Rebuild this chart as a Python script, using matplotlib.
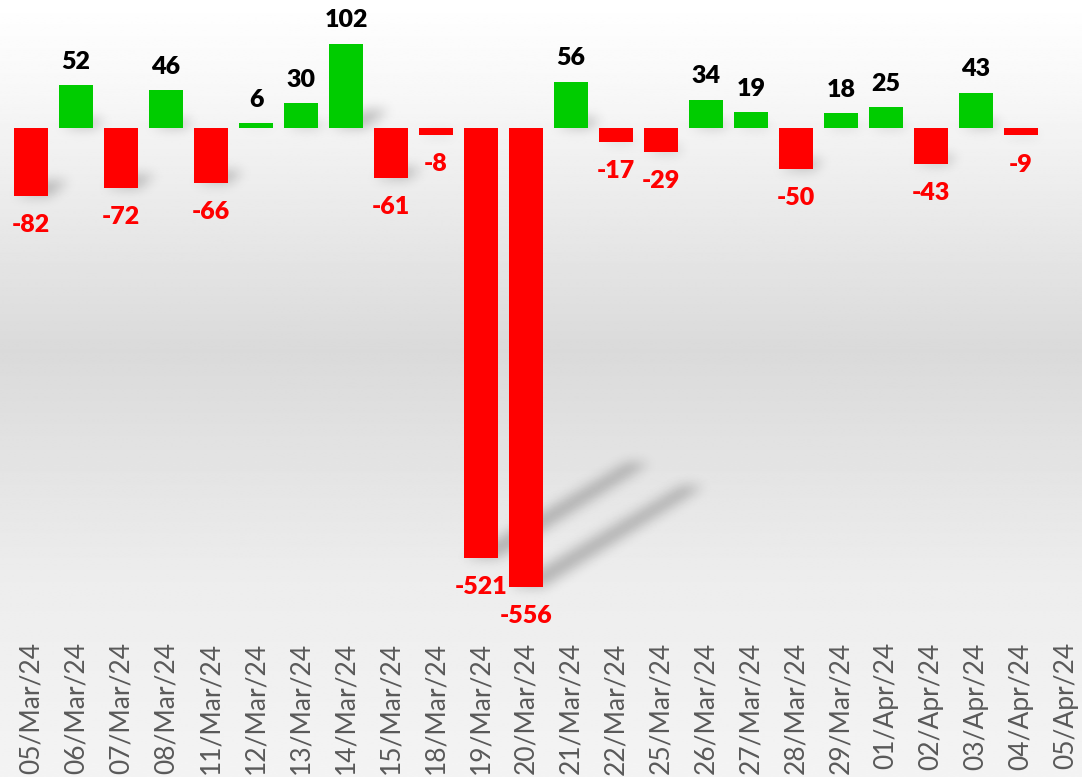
import numpy as np
import matplotlib
matplotlib.use("Agg")
import matplotlib.pyplot as plt
from matplotlib.path import Path

dates = ["05/Mar/24", "06/Mar/24", "07/Mar/24", "08/Mar/24", "11/Mar/24", "12/Mar/24",
         "13/Mar/24", "14/Mar/24", "15/Mar/24", "18/Mar/24", "19/Mar/24", "20/Mar/24",
         "21/Mar/24", "22/Mar/24", "25/Mar/24", "26/Mar/24", "27/Mar/24", "28/Mar/24",
         "29/Mar/24", "01/Apr/24", "02/Apr/24", "03/Apr/24", "04/Apr/24", "05/Apr/24"]
values = [-82, 52, -72, 46, -66, 6, 30, 102, -61, -8, -521, -556,
          56, -17, -29, 34, 19, -50, 18, 25, -43, 43, -9]

GREEN = "#00cc00"
RED = "#ff0000"
W, H = 1082, 777
plt.rcParams["font.family"] = ["Lato", "DejaVu Sans"]

fig = plt.figure(figsize=(W / 100, H / 100), dpi=100)

# background gradient (white top, grey middle, light bottom)
bg = fig.add_axes([0, 0, 1, 1], zorder=-10)
t = np.linspace(0, 1, 400)
shade = np.interp(t, [0.0, 0.12, 0.45, 0.75, 1.0], [1.0, 0.97, 0.855, 0.93, 0.955])
bg.imshow(np.repeat(shade[:, None], 2, axis=1), cmap="gray", vmin=0, vmax=1,
          aspect="auto", extent=[0, 1, 0, 1], interpolation="bilinear")
bg.axis("off")

ax_bottom = 157 / H
ax = fig.add_axes([8.5 / W, ax_bottom, 1080 / W, 1 - ax_bottom])
ax.set_facecolor("none")
ylo, yhi = -595.6, 155.0
ax.set_xlim(-0.5, len(dates) - 0.5)
ax.set_ylim(ylo, yhi)

x = np.arange(len(values))
vals = np.array(values)
bw = 0.75
colors = [GREEN if v >= 0 else RED for v in vals]

# soft perspective shadows, rasterised then blurred
nx, ny = 1080, 620
gx = np.linspace(-0.5, len(dates) - 0.5, nx)
gy = np.linspace(yhi, ylo, ny)
GX, GY = np.meshgrid(gx, gy)
pts = np.column_stack([GX.ravel(), GY.ravel()])
mask = np.zeros(nx * ny)
px_per_x = 1080 / len(dates)
px_per_y = 620 / (yhi - ylo)
for xi, v in zip(x, vals):
    h = abs(v)
    base = min(0, v)
    dx = 0.36 * h * px_per_y / px_per_x
    dy = 0.22 * h
    x0, x1 = xi - bw / 2, xi + bw / 2
    poly = Path([(x0, base), (x1, base), (x1 + dx - 0.1, base + dy),
                 (x0 + dx + 0.15, base + dy), (x0, base)])
    mask = np.maximum(mask, poly.contains_points(pts).astype(float))
mask = mask.reshape(ny, nx)
k = np.exp(-0.5 * (np.arange(-18, 19) / 6.0) ** 2)
k /= k.sum()
mask = np.apply_along_axis(lambda r: np.convolve(r, k, mode="same"), 1, mask)
mask = np.apply_along_axis(lambda c: np.convolve(c, k, mode="same"), 0, mask)
rgba = np.zeros((ny, nx, 4))
rgba[..., 3] = mask * 0.25
ax.imshow(rgba, extent=[-0.5, len(dates) - 0.5, ylo, yhi], aspect="auto",
          zorder=1, interpolation="bilinear")

ax.bar(x, vals, width=bw, color=colors, zorder=2)

for xi, v in zip(x, vals):
    if v >= 0:
        ax.annotate(str(v), (xi, v), xytext=(0, 9), textcoords="offset points",
                    ha="center", va="bottom", fontsize=18, fontweight="heavy",
                    color="black", zorder=3)
    else:
        ax.annotate(str(v), (xi, v), xytext=(0, -13), textcoords="offset points",
                    ha="center", va="top", fontsize=18, fontweight="heavy",
                    color=RED, zorder=3)

ax.set_xticks(np.arange(len(dates)))
ax.set_xticklabels(dates, rotation=90, fontsize=19, color="#595959")
ax.tick_params(axis="x", length=0, pad=16)
ax.set_yticks([])
for s in ax.spines.values():
    s.set_visible(False)

fig.savefig("out.png", dpi=100)
